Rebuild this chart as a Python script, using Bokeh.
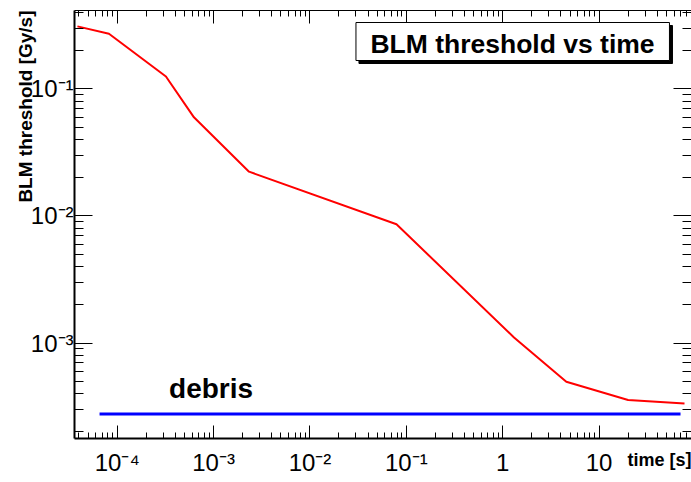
import math
from bokeh.plotting import figure
from bokeh.models import Range1d, LogAxis, FixedTicker, Label, BoxAnnotation
from bokeh.embed import file_html
from bokeh.resources import INLINE

# ---- data ----
threshold_t = [3.86e-5, 8.2e-5, 3.2e-4, 6.25e-4, 2.33e-3, 7.9e-2, 1.31, 4.57, 20.0, 77.0]
threshold_v = [0.310, 0.271, 0.125, 0.0597, 0.0223, 8.6e-3, 1.107e-3, 4.96e-4, 3.56e-4, 3.34e-4]
debris_t = [6.55e-5, 70.0]
debris_v = [2.76e-4, 2.76e-4]

x_tick_vals = [1e-4, 1e-3, 1e-2, 1e-1, 1.0, 10.0]
x_tick_labels = ["10⁻⁴", "10⁻³", "10⁻²", "10⁻¹", "1", "10"]
y_tick_vals = [1e-3, 1e-2, 1e-1]
y_tick_labels = ["10⁻³", "10⁻²", "10⁻¹"]

title_text = "BLM threshold vs time"
x_title = "time [s]"
y_title = "BLM threshold [Gy/s]"
debris_text = "debris"

x_lo, x_hi = 3.6e-5, 91.0
y_lo, y_hi = 1.774e-4, 0.4135

FONT = "Liberation Sans"

# frame geometry in canvas pixels (used only to place the title box)
FL, FR, FT, FB = 74, 690, 10, 438


def px_x(px):
    a, b = math.log10(x_lo), math.log10(x_hi)
    return 10 ** (a + (px - FL) / (FR - FL) * (b - a))


def px_y(py):
    a, b = math.log10(y_lo), math.log10(y_hi)
    return 10 ** (a + (FB - py) / (FB - FT) * (b - a))


p = figure(width=691, height=482, x_axis_type="log", y_axis_type="log",
           x_range=Range1d(x_lo, x_hi), y_range=Range1d(y_lo, y_hi),
           output_backend="svg", toolbar_location=None,
           min_border_left=74, min_border_right=0, min_border_top=10,
           min_border_bottom=44)
p.outline_line_color = None
p.grid.visible = False
p.background_fill_color = "white"
p.border_fill_color = "white"

x_minor = [m * 10.0 ** e for e in range(-5, 2) for m in range(2, 10)]
y_minor = [m * 10.0 ** e for e in range(-4, 0) for m in range(2, 10)]


def style_common(ax, lw):
    ax.major_tick_out = 0
    ax.minor_tick_out = 0
    ax.axis_line_width = lw
    ax.axis_line_color = "black"
    ax.major_tick_line_color = "black"
    ax.minor_tick_line_color = "black"


def hide_labels(ax, vals):
    ax.major_label_overrides = {v: "" for v in vals}
    ax.major_label_text_font_size = "1px"
    ax.major_label_standoff = 0


def set_title(ax, text, size, standoff, orientation):
    ax.axis_label = text
    ax.axis_label_text_font = FONT
    ax.axis_label_text_font_style = "bold"
    ax.axis_label_text_font_size = size
    ax.axis_label_text_color = "black"
    ax.axis_label_standoff = standoff
    ax.axis_label_orientation = orientation
    ax.axis_label_align = "end"


def style_x(ax, labels=True, lw=2):
    ax.ticker = FixedTicker(ticks=x_tick_vals, minor_ticks=x_minor)
    ax.major_tick_in = 13
    ax.minor_tick_in = 6
    style_common(ax, lw)
    if labels:
        ax.major_label_overrides = dict(zip(x_tick_vals, x_tick_labels))
        ax.major_label_text_font = FONT
        ax.major_label_text_font_size = "24px"
        ax.major_label_text_color = "black"
        ax.major_label_standoff = 10
    else:
        hide_labels(ax, x_tick_vals)


def style_y(ax, labels=True, lw=2):
    ax.ticker = FixedTicker(ticks=y_tick_vals, minor_ticks=y_minor)
    ax.major_tick_in = 18
    ax.minor_tick_in = 9
    style_common(ax, lw)
    if labels:
        ax.major_label_overrides = dict(zip(y_tick_vals, y_tick_labels))
        ax.major_label_text_font = FONT
        ax.major_label_text_font_size = "24px"
        ax.major_label_text_color = "black"
        ax.major_label_standoff = 1
    else:
        hide_labels(ax, y_tick_vals)


style_x(p.xaxis[0])
style_y(p.yaxis[0])
# numeric orientations make the axis titles hug the end of the axis (ROOT style)
set_title(p.xaxis[0], x_title, "18px", -19, 1e-6)
set_title(p.yaxis[0], y_title, "19px", 2, math.pi / 2)

top_ax = LogAxis()
style_x(top_ax, labels=False, lw=1)
p.add_layout(top_ax, "above")
right_ax = LogAxis()
style_y(right_ax, labels=False, lw=1)
p.add_layout(right_ax, "right")

# ---- data lines ----
p.line(threshold_t, threshold_v, line_color="#ff0000", line_width=2)
p.line(debris_t, debris_v, line_color="#0000ff", line_width=3)

# ---- texts inside the frame ----
p.add_layout(Label(x=3.45e-4, y=debris_v[0], y_offset=26, text=debris_text,
                   text_font=FONT, text_font_style="bold", text_font_size="28px",
                   text_color="black", text_baseline="alphabetic", text_align="left"))

# title box with shadow
p.add_layout(BoxAnnotation(left=px_x(358), right=px_x(671), top=px_y(25), bottom=px_y(63),
                           fill_color="black", fill_alpha=1, line_color="black",
                           line_alpha=1, level="overlay"))
p.add_layout(BoxAnnotation(left=px_x(355), right=px_x(668), top=px_y(22), bottom=px_y(60),
                           fill_color="white", fill_alpha=1, line_color="black",
                           line_width=1, line_alpha=1, level="overlay"))
p.add_layout(Label(x=x_hi, y=y_hi, x_offset=-179, y_offset=-33.5, text=title_text,
                   text_font=FONT, text_font_style="bold", text_font_size="26.5px",
                   text_color="black", text_align="center", text_baseline="alphabetic",
                   level="overlay"))

open("out.html", "w").write(file_html(p, INLINE))
